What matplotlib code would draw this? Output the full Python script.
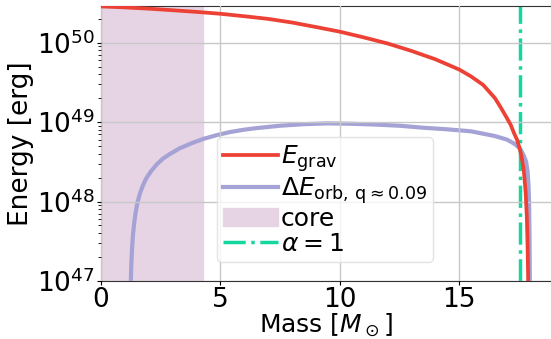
import matplotlib
matplotlib.use("Agg")
import matplotlib.pyplot as plt

# E_grav (erg) vs enclosed mass (Msun)
mass_grav = [0.0, 1.0, 2.0, 3.0, 4.0, 5.0, 6.0, 7.0, 8.0, 9.0, 10.0, 11.0, 12.0,
             13.0, 14.0, 15.0, 15.5, 16.0, 16.5, 16.75, 17.0, 17.15, 17.3, 17.42,
             17.5, 17.6, 17.7, 17.78, 17.83, 17.86, 17.88, 17.89]
e_grav = [2.87e50, 2.79e50, 2.69e50, 2.57e50, 2.45e50, 2.32e50, 2.16e50, 2.00e50,
          1.80e50, 1.58e50, 1.38e50, 1.17e50, 9.8e49, 7.9e49, 6.2e49, 4.6e49,
          3.76e49, 2.95e49, 2.0e49, 1.51e49, 1.12e49, 9.3e48, 7.2e48, 6.0e48,
          5.0e48, 3.8e48, 2.5e48, 1.3e48, 6.3e47, 2.8e47, 1.26e47, 7.0e46]

# Delta E_orb (erg) vs mass
mass_orb = [1.25, 1.26, 1.28, 1.31, 1.35, 1.40, 1.46, 1.54, 1.64, 1.76, 1.90,
            2.1, 2.35, 2.6, 2.9, 3.3, 3.8, 4.3, 4.9, 5.4, 6.0, 6.5, 7.5, 8.5,
            9.5, 10.5, 11.5, 12.5, 13.5, 14.5, 15.5, 16.0, 16.5, 17.0, 17.3,
            17.54, 17.7, 17.8, 17.86, 17.9, 17.92, 17.94, 17.95, 17.96]
e_orb = [7.1e46, 1.0e47, 1.58e47, 2.51e47, 3.8e47, 5.37e47, 7.24e47, 9.77e47,
         1.26e48, 1.58e48, 1.95e48, 2.40e48, 2.95e48, 3.47e48, 3.98e48, 4.68e48,
         5.43e48, 6.17e48, 6.92e48, 7.50e48, 8.04e48, 8.41e48, 9.02e48, 9.44e48,
         9.66e48, 9.55e48, 9.33e48, 9.02e48, 8.51e48, 8.13e48, 7.67e48, 7.16e48,
         6.68e48, 6.03e48, 5.37e48, 4.68e48, 3.8e48, 3.16e48, 2.4e48, 1.58e48,
         1.0e48, 4.0e47, 1.6e47, 6.0e46]

core_mass = 4.29
alpha1_mass = 17.54

fig = plt.figure(figsize=(5.51, 3.39), dpi=100)
ax = fig.add_axes([100.7/551, 58/339, (551-100.7)/551, (281-5.7)/339])

ax.axvspan(0, core_mass, color='#e6d4e4', zorder=0, label='core')
ax.plot(mass_grav, e_grav, color='#ec4134', lw=2.7, label=r'$E_{\rm grav}$', zorder=3)
ax.plot(mass_orb, e_orb, color='#a5a2d6', lw=3, label=r'$\Delta E_{\rm orb,\,q\approx0.09}$', zorder=2)
ax.axvline(alpha1_mass, color='#14d7a0', lw=2.5, ls='-.', label=r'$\alpha = 1$', zorder=2)

ax.set_yscale('log')
ax.set_xlim(0, 18.84)
ax.set_ylim(1e47, 2.93e50)
ax.set_xticks([0, 5, 10, 15])
ax.grid(True, which='major', color='#c8c8c8', lw=1, zorder=1)
ax.set_axisbelow(False)

for s in ['left', 'bottom', 'top']:
    ax.spines[s].set_color('#333333')
ax.spines['right'].set_visible(False)

ax.tick_params(axis='both', which='major', labelsize=19, length=3, pad=1)
ax.tick_params(axis='y', which='minor', length=2)
ax.set_xlabel(r'Mass [$M_\odot$]', fontsize=18, labelpad=-1)
ax.set_ylabel('Energy [erg]', fontsize=19, labelpad=2)

h, l = ax.get_legend_handles_labels()
order = [1, 2, 0, 3]
leg = ax.legend([h[i] for i in order], [l[i] for i in order], fontsize=18,
                loc='upper left', bbox_to_anchor=(216.7/551, 1-136.7/339),
                bbox_transform=fig.transFigure, borderaxespad=0,
                handlelength=2.2, handletextpad=0.12, labelspacing=0.05,
                borderpad=0.25, framealpha=0.8, edgecolor='#dddddd')
leg.set_zorder(5)

fig.savefig('out.png', dpi=100)
